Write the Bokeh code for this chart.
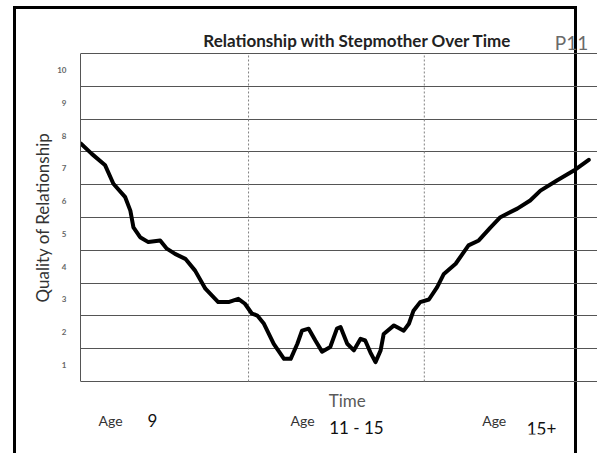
from bokeh.plotting import figure
from bokeh.models import Range1d, FixedTicker
from bokeh.core.properties import value
from bokeh.embed import file_html
from bokeh.resources import INLINE

# ---- data ----
time = [0.1, 2.2, 4.8, 6.4, 8.7, 9.7, 10.3, 11.6, 13.2, 15.5, 16.8, 18.4, 20.4, 22.3,
        24.3, 26.8, 28.8, 30.7, 32.0, 33.3, 34.4, 35.7, 37.6, 39.6, 40.9, 42.2, 43.1,
        44.4, 45.7, 47.0, 48.6, 49.9, 50.6, 51.9, 53.2, 54.5, 55.4, 56.4, 57.4, 58.4,
        59.0, 61.0, 62.9, 63.9, 64.8, 66.1, 67.8, 69.4, 70.7, 73.0, 75.5, 77.5, 79.8,
        81.7, 85.0, 87.5, 89.5, 92.7, 96.0, 98.9]
quality = [7.75, 7.44, 7.09, 6.53, 6.12, 5.71, 5.20, 4.90, 4.75, 4.80, 4.55, 4.39, 4.24,
           3.88, 3.33, 2.92, 2.92, 3.02, 2.87, 2.58, 2.51, 2.26, 1.65, 1.19, 1.19, 1.65,
           2.05, 2.11, 1.75, 1.41, 1.55, 2.11, 2.16, 1.65, 1.45, 1.80, 1.75, 1.39, 1.09,
           1.45, 1.95, 2.21, 2.05, 2.26, 2.66, 2.92, 3.00, 3.38, 3.78, 4.09, 4.65, 4.80,
           5.20, 5.51, 5.77, 6.02, 6.32, 6.63, 6.93, 7.26]
y_ticks = [1, 2, 3, 4, 5, 6, 7, 8, 9, 10]
y_low, y_high = 0.5, 10.5          # scale limits (band edges)
dividers = [32.7, 66.9]            # dotted period dividers on the time axis
age_word = ["Age", "Age", "Age"]
age_pos = [5.84, 43.2, 80.5]
age_values = ["9", "11 - 15", "15+"]
age_value_pos = [14.0, 53.7, 89.7]
age_value_y = [-0.69, -0.90, -0.93]

title_text = "Relationship with Stepmother Over Time"
page_tag = "P11"
x_label = "Time"
y_label = "Quality of Relationship"

FONT = "Lato"

p = figure(width=597, height=453, output_backend="svg", toolbar_location=None,
           x_range=Range1d(0, 100.6), y_range=Range1d(-1.116, 12.116),
           x_axis_location=None,
           min_border_left=80, min_border_right=0, min_border_top=0,
           min_border_bottom=19)
p.outline_line_color = None
p.background_fill_alpha = 0
p.border_fill_alpha = 0
p.styles = {
    "background": (
        "linear-gradient(#000,#000) 13px 6px / 3px 100% no-repeat, "
        "linear-gradient(#000,#000) 574px 6px / 3px 100% no-repeat, "
        "linear-gradient(#000,#000) 13px 6px / 564px 3px no-repeat"
    )
}

# horizontal band lines
p.ygrid.ticker = FixedTicker(ticks=[t - 0.5 for t in y_ticks] + [y_high])
p.ygrid.grid_line_color = "#555555"
p.ygrid.grid_line_width = 1
p.xgrid.grid_line_color = None

# y axis
ya = p.yaxis[0]
ya.bounds = (y_low, y_high)
ya.ticker = FixedTicker(ticks=y_ticks)
ya.major_tick_line_color = None
ya.minor_tick_line_color = None
ya.axis_line_color = "#555555"
ya.major_label_text_font = FONT
ya.major_label_text_font_size = "8px"
ya.major_label_text_font_style = "bold"
ya.major_label_text_color = "#666666"
ya.major_label_standoff = 8
ya.axis_label = y_label
ya.axis_label_text_font = FONT
ya.axis_label_text_font_size = "17px"
ya.axis_label_text_font_style = "normal"
ya.axis_label_text_color = "#333333"
ya.axis_label_standoff = 1

# dotted dividers
p.segment(x0=dividers, y0=[y_low] * len(dividers), x1=dividers,
          y1=[y_high] * len(dividers), line_color="#808080", line_width=1,
          line_dash="2 2")

# the curve
p.line(time, quality, line_color="black", line_width=4, line_join="round",
       line_cap="round")

# texts
p.text(x=[23.9], y=[10.896], text=[title_text], text_font=value(FONT),
       text_font_style="bold", text_font_size="17px", text_color="#222222",
       text_align="left", text_baseline="alphabetic")
p.text(x=[98.8], y=[10.835], text=[page_tag], text_font=value(FONT),
       text_font_size="19px", text_color="#6a6a6a", text_align="right",
       text_baseline="alphabetic")
p.text(x=[51.9], y=[-0.079], text=[x_label], text_font=value(FONT),
       text_font_size="17px", text_color="#5a5a5a", text_align="center",
       text_baseline="alphabetic")
p.text(x=age_pos, y=[-0.689] * len(age_pos), text=age_word, text_font=value(FONT),
       text_font_size="14px", text_color="#333333", text_align="center",
       text_baseline="alphabetic")
p.text(x=age_value_pos, y=age_value_y, text=age_values, text_font=value(FONT),
       text_font_size="17px", text_color="#111111", text_align="center",
       text_baseline="alphabetic")

open("out.html", "w").write(file_html(p, INLINE))
